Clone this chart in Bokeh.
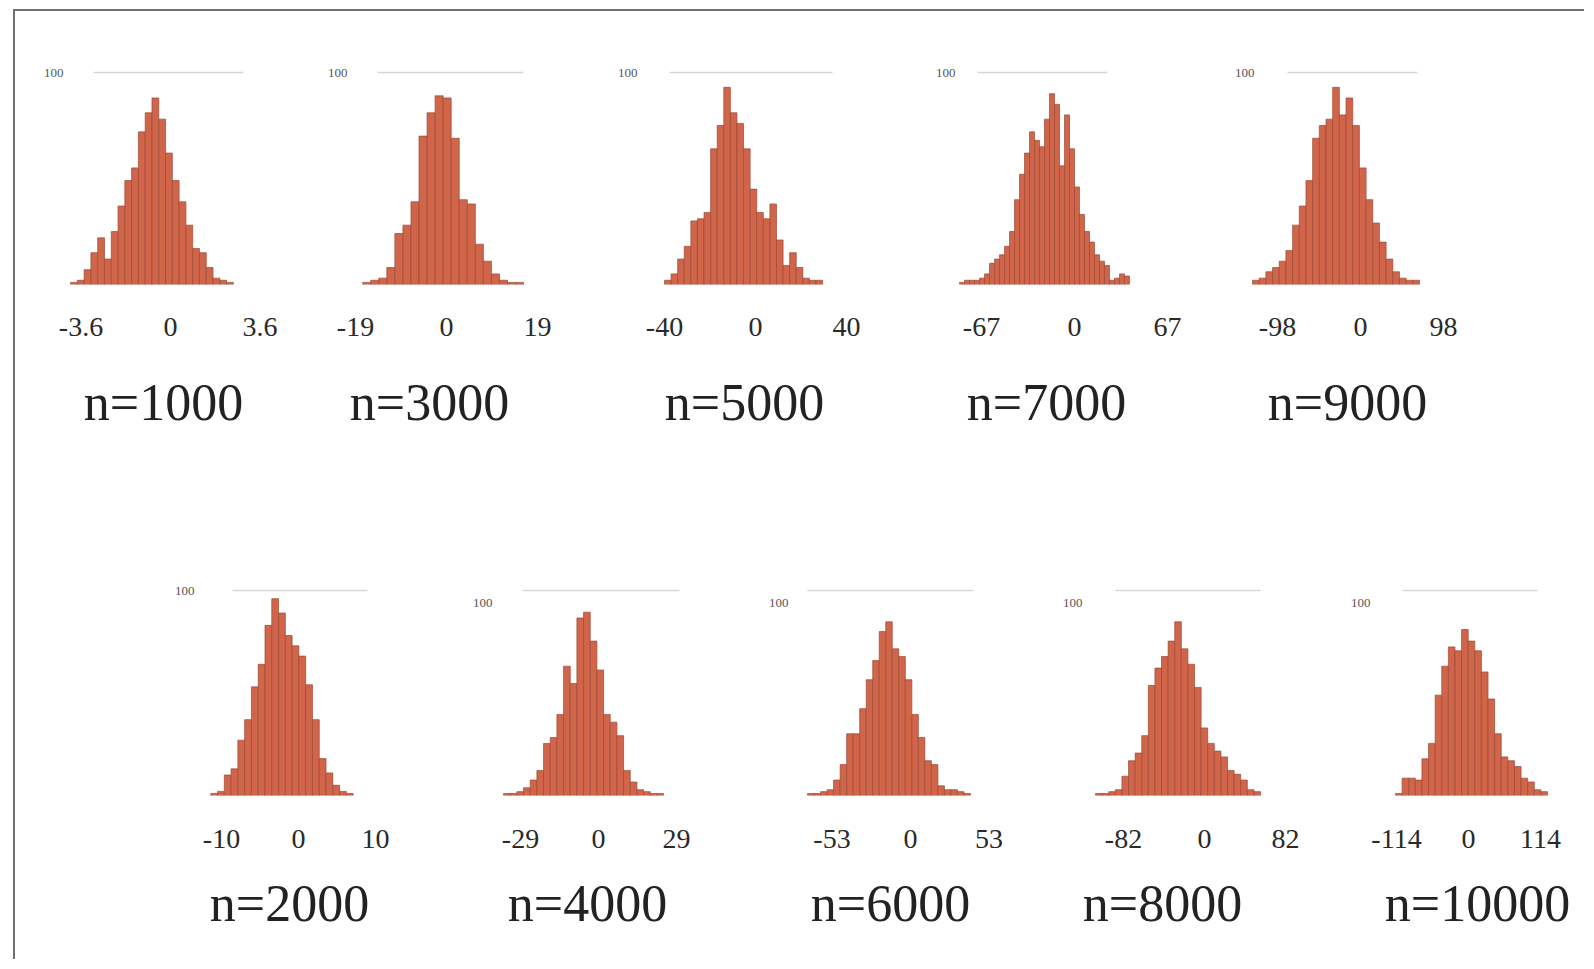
import numpy as np
from bokeh.plotting import figure
from bokeh.layouts import row, column
from bokeh.models import FixedTicker, Title
from bokeh.embed import file_html
from bokeh.resources import INLINE

# ---------------- data ----------------
sample_sizes = [1000, 3000, 5000, 7000, 9000, 2000, 4000, 6000, 8000, 10000]
tick_limits = [3.6, 19, 40, 67, 98, 10, 29, 53, 82, 114]
tick_labels = [("-3.6", "0", "3.6"), ("-19", "0", "19"), ("-40", "0", "40"),
               ("-67", "0", "67"), ("-98", "0", "98"), ("-10", "0", "10"),
               ("-29", "0", "29"), ("-53", "0", "53"), ("-82", "0", "82"),
               ("-114", "0", "114")]
y_tick_label = "100"

# histogram range (lowest / highest bin edge) per sample size
bin_lo = [-4.02, -17.5, -40.0, -82.8, -127.5, -11.4, -35.3, -69.5, -110.3, -115.6]
bin_hi = [2.53, 16.1, 29.5, 39.6, 69.7, 7.1, 24.2, 40.5, 56.7, 125.1]

counts_n1000 = [1, 2, 7, 15, 22, 12, 25, 37, 49, 55, 72, 81, 88, 78, 62, 49, 39, 28, 17, 15, 8, 3, 2, 1]
counts_n3000 = [1, 2, 3, 8, 24, 28, 39, 70, 81, 89, 88, 69, 40, 38, 19, 11, 5, 2, 1, 1]
counts_n5000 = [2, 5, 12, 18, 30, 31, 34, 64, 75, 93, 81, 76, 64, 45, 34, 31, 38, 21, 9, 15, 8, 3, 2, 2]
counts_n7000 = [1, 2, 2, 2, 3, 5, 10, 12, 14, 18, 25, 40, 52, 62, 72, 68, 65, 78, 90, 85, 56, 80,
                64, 46, 33, 25, 20, 14, 11, 9, 2, 3, 5, 4]
counts_n9000 = [2, 3, 6, 8, 11, 16, 28, 37, 49, 69, 75, 78, 93, 80, 88, 75, 55, 40, 29, 20, 12, 6, 3, 2, 2]
counts_n2000 = [1, 2, 10, 13, 27, 37, 53, 64, 83, 96, 89, 78, 73, 68, 54, 37, 18, 11, 5, 2, 1]
counts_n4000 = [1, 1, 2, 4, 8, 13, 27, 30, 42, 67, 58, 92, 95, 80, 65, 42, 38, 31, 13, 7, 3, 2, 1, 1]
counts_n6000 = [1, 1, 2, 3, 8, 16, 32, 32, 45, 60, 70, 85, 90, 76, 72, 60, 42, 30, 18, 16, 5, 3, 3, 2, 1]
counts_n8000 = [1, 1, 2, 3, 10, 18, 22, 31, 57, 66, 72, 80, 90, 76, 68, 56, 35, 27, 23, 20, 13, 11, 8, 3, 2]
counts_n10000 = [1, 9, 9, 8, 19, 27, 52, 67, 77, 75, 86, 80, 75, 64, 50, 32, 20, 18, 15, 9, 7, 3, 2]

all_counts = [counts_n1000, counts_n3000, counts_n5000, counts_n7000, counts_n9000,
              counts_n2000, counts_n4000, counts_n6000, counts_n8000, counts_n10000]

# ---------------- layout (page pixels) ----------------
ORIGIN_X = 15
ORIGIN_Y = 11
zero_px = [170, 446, 753, 1072, 1358, 298, 598, 910, 1204, 1468]
unit_px = [89.5, 91, 91, 93, 83, 77, 78, 78.5, 81, 72]
bars_l = [67, 359, 659, 954, 1247, 207, 500, 804, 1092, 1392]
bars_r = [236, 526, 823, 1130, 1420, 356, 666, 973, 1263, 1550]
ylab_cx = [53, 337, 625, 943, 1242, 184, 482, 778, 1072, 1360]
y100_px = [72, 72, 72, 72, 72, 590, 602, 602, 602, 602]
topline_y = [72, 72, 72, 72, 72, 590, 590, 590, 590, 590]
topline_x = [(93, 243), (377, 523), (667, 830), (975, 1105), (1285, 1415),
             (232, 367), (522, 687), (807, 973), (1115, 1260), (1402, 1537)]
title_cx = [163, 429, 742, 1044, 1345, 289, 587, 890, 1162, 1477]

ROW_H = [470, 478]
ROW_TOP = [ORIGIN_Y, ORIGIN_Y + ROW_H[0]]
FRAME_TOP = [62, 585]
FRAME_BOT = [284, 795]
ROW_RIGHT = [1582, 1582]
TICK_STANDOFF = [33, 34]
TITLE_STANDOFF = [66, 45]

BAR_FILL = "#D0654A"
BAR_LINE = "#9C4934"
SERIF = "Liberation Serif"
TICK_FS = 28
TITLE_FS = 52
YLAB_FS = 13


def text_em(s):
    w = {"n": 0.5, "=": 0.564, "-": 0.333, ".": 0.25}
    return sum(w.get(c, 0.5) for c in s)


def frame_lr(i):
    fl = min(bars_l[i], zero_px[i] - unit_px[i] - 3)
    fr = max(bars_r[i], zero_px[i] + unit_px[i] + 3)
    return int(round(fl)), int(round(fr))


def make_panel(i, r, ml, mr):
    L = tick_limits[i]
    fl, fr = frame_lr(i)
    x0, dx = zero_px[i], unit_px[i]
    to_data = lambda px: (px - x0) / dx * L
    ft, fb = FRAME_TOP[r], FRAME_BOT[r]
    fh = fb - ft
    ymax = 100.0 * fh / (fb - y100_px[i])
    mt = ft - ROW_TOP[r]
    mb = ROW_H[r] - mt - fh

    p = figure(frame_width=fr - fl, frame_height=fh,
               x_range=(to_data(fl), to_data(fr)), y_range=(0, ymax),
               min_border_left=ml, min_border_right=mr,
               min_border_top=mt, min_border_bottom=mb,
               output_backend="svg", toolbar_location=None, tools="",
               background_fill_color="white", border_fill_color="white")
    p.outline_line_color = None
    p.xgrid.visible = False
    p.ygrid.visible = False

    # faint frame line of the original chart
    ly = 100.0 * (fb - topline_y[i]) / (fb - y100_px[i])
    p.segment(x0=[to_data(topline_x[i][0])], y0=[ly], x1=[to_data(topline_x[i][1])], y1=[ly],
              line_color="#d6d6d6", line_width=1.5)

    counts = all_counts[i]
    edges = np.linspace(bin_lo[i], bin_hi[i], len(counts) + 1)
    p.quad(left=edges[:-1], right=edges[1:], bottom=0, top=counts,
           fill_color=BAR_FILL, line_color=BAR_LINE, line_width=0.7)

    # x axis: -L, 0, L
    xa = p.xaxis[0]
    xa.ticker = FixedTicker(ticks=[-L, 0, L])
    labs = tick_labels[i]
    xa.major_label_overrides = {-L: labs[0], 0: labs[1], L: labs[2]}
    xa.axis_line_color = None
    xa.major_tick_line_color = None
    xa.minor_tick_line_color = None
    xa.major_tick_out = 0
    xa.major_tick_in = 0
    xa.major_label_standoff = TICK_STANDOFF[r]
    xa.major_label_text_font = SERIF
    xa.major_label_text_font_size = f"{TICK_FS}px"
    xa.major_label_text_color = "#2a2a2a"

    # y axis: only "100"
    ya = p.yaxis[0]
    ya.ticker = FixedTicker(ticks=[100])
    ya.major_label_overrides = {100: y_tick_label}
    ya.axis_line_color = None
    ya.major_tick_line_color = None
    ya.minor_tick_line_color = None
    ya.major_tick_out = 0
    ya.major_tick_in = 0
    w100 = text_em(y_tick_label) * YLAB_FS
    ya.major_label_standoff = int(round(fl - (ylab_cx[i] + w100 / 2)))
    ya.major_label_text_font = SERIF
    ya.major_label_text_font_size = f"{YLAB_FS}px"
    ya.major_label_text_color = "#555555"

    # sample size caption below
    txt = f"n={sample_sizes[i]}"
    tw = text_em(txt) * TITLE_FS
    off = title_cx[i] - tw / 2 - fl
    p.add_layout(Title(text=txt, align="left", offset=off, standoff=TITLE_STANDOFF[r],
                       text_font=SERIF, text_font_size=f"{TITLE_FS}px",
                       text_font_style="normal", text_color="#222222"), "below")
    return p


rows = []
for r, idxs in enumerate([[0, 1, 2, 3, 4], [5, 6, 7, 8, 9]]):
    figs = []
    for k, i in enumerate(idxs):
        fl, fr = frame_lr(i)
        ml = fl - ORIGIN_X if k == 0 else 45
        if k < len(idxs) - 1:
            mr = (frame_lr(idxs[k + 1])[0] - 45) - fr
        else:
            mr = ROW_RIGHT[r] - fr
        figs.append(make_panel(i, r, ml, mr))
    rows.append(row(*figs, spacing=0))

layout = column(*rows, spacing=0,
                styles={"border-top": "2px solid #707070",
                        "border-left": "2px solid #707070",
                        "margin-top": "9px", "margin-left": "13px"})

open("out.html", "w").write(file_html(layout, INLINE))
